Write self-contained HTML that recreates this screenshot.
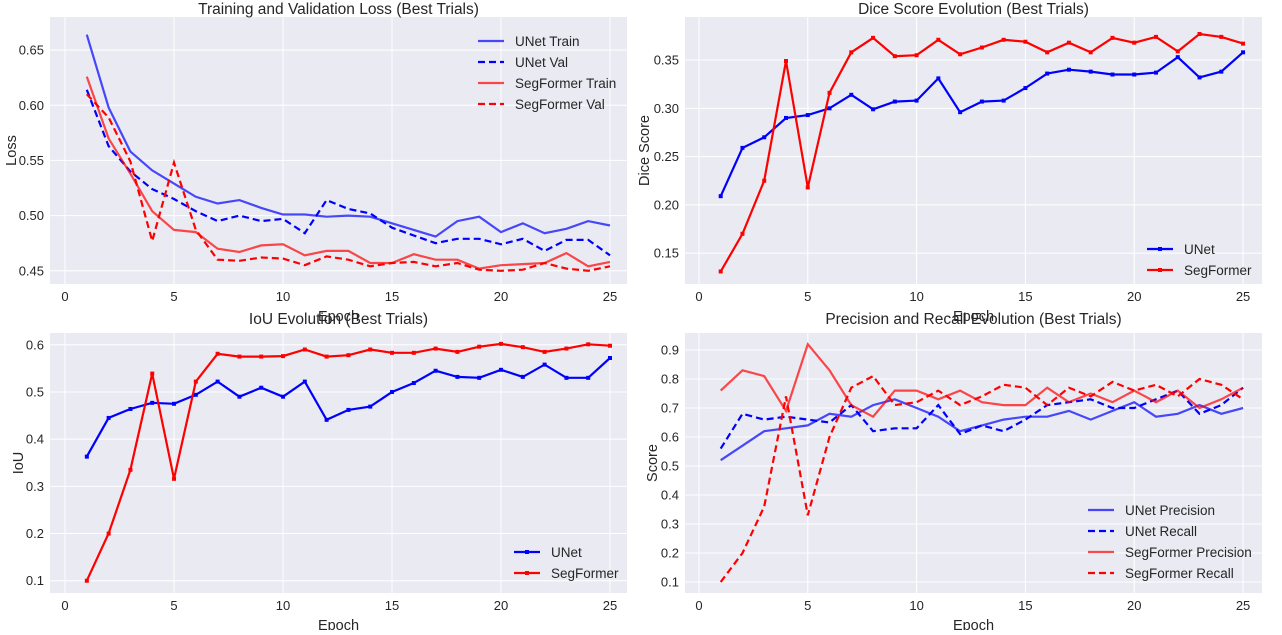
<!DOCTYPE html>
<html><head><meta charset="utf-8"><style>
body{margin:0;background:#fff;width:1282px;height:630px;overflow:hidden}
svg{font-family:"Liberation Sans",sans-serif}
</style></head><body>
<svg id="c" width="1282" height="630"></svg>
<script>
const epochs=[1,2,3,4,5,6,7,8,9,10,11,12,13,14,15,16,17,18,19,20,21,22,23,24,25];
const unetTrain=[0.664,0.598,0.558,0.541,0.529,0.517,0.511,0.514,0.507,0.501,0.501,0.499,0.500,0.499,0.493,0.487,0.481,0.495,0.499,0.485,0.493,0.484,0.488,0.495,0.491];
const unetVal=[0.614,0.563,0.540,0.524,0.515,0.504,0.495,0.500,0.495,0.497,0.484,0.514,0.506,0.502,0.489,0.482,0.475,0.479,0.479,0.474,0.479,0.468,0.478,0.478,0.464];
const segTrain=[0.626,0.570,0.538,0.504,0.487,0.485,0.470,0.467,0.473,0.474,0.464,0.468,0.468,0.457,0.457,0.465,0.460,0.460,0.452,0.455,0.456,0.457,0.466,0.454,0.458];
const segVal=[0.610,0.589,0.549,0.477,0.548,0.487,0.460,0.459,0.462,0.461,0.455,0.463,0.460,0.454,0.457,0.458,0.454,0.457,0.451,0.450,0.451,0.457,0.452,0.450,0.454];
const unetDice=[0.209,0.259,0.270,0.290,0.293,0.300,0.314,0.299,0.307,0.308,0.331,0.296,0.307,0.308,0.321,0.336,0.340,0.338,0.335,0.335,0.337,0.353,0.332,0.338,0.358];
const segDice=[0.131,0.170,0.225,0.349,0.218,0.316,0.358,0.373,0.354,0.355,0.371,0.356,0.363,0.371,0.369,0.358,0.368,0.358,0.373,0.368,0.374,0.359,0.377,0.374,0.367];
const unetIoU=[0.363,0.445,0.464,0.477,0.475,0.494,0.522,0.490,0.509,0.490,0.522,0.441,0.462,0.469,0.500,0.519,0.545,0.532,0.530,0.547,0.532,0.558,0.530,0.530,0.572];
const segIoU=[0.10,0.20,0.335,0.539,0.316,0.522,0.581,0.575,0.575,0.576,0.590,0.575,0.578,0.590,0.583,0.583,0.592,0.585,0.596,0.602,0.595,0.585,0.592,0.601,0.598];
const unetPrec=[0.52,0.57,0.62,0.63,0.64,0.68,0.67,0.71,0.73,0.70,0.67,0.62,0.64,0.66,0.67,0.67,0.69,0.66,0.69,0.72,0.67,0.68,0.71,0.68,0.70];
const unetRec=[0.56,0.68,0.66,0.67,0.66,0.65,0.71,0.62,0.63,0.63,0.71,0.61,0.64,0.62,0.66,0.71,0.72,0.73,0.70,0.70,0.73,0.76,0.68,0.71,0.77];
const segPrec=[0.76,0.83,0.81,0.69,0.92,0.83,0.71,0.67,0.76,0.76,0.73,0.76,0.72,0.71,0.71,0.77,0.72,0.75,0.72,0.76,0.72,0.76,0.70,0.73,0.77];
const segRec=[0.10,0.20,0.36,0.74,0.33,0.60,0.77,0.81,0.71,0.72,0.76,0.71,0.74,0.78,0.77,0.71,0.77,0.74,0.79,0.76,0.78,0.74,0.80,0.78,0.73];
const xTicks=[0,5,10,15,20,25];
const lossTicks=[0.45,0.50,0.55,0.60,0.65];
const diceTicks=[0.15,0.20,0.25,0.30,0.35];
const iouTicks=[0.1,0.2,0.3,0.4,0.5,0.6];
const scoreTicks=[0.1,0.2,0.3,0.4,0.5,0.6,0.7,0.8,0.9];

const NS="http://www.w3.org/2000/svg",svg=document.getElementById('c');
function mk(tag,attrs,parent,name){const e=document.createElementNS(NS,tag);for(const k in attrs)e.setAttribute(k,attrs[k]);


(parent||svg).appendChild(e);return e;}
function panel(p){
  const g=mk('g',{},svg,p.name);
  const sx=v=>p.l+(v-p.x0)/(p.x1-p.x0)*(p.r-p.l), sy=v=>p.b-(v-p.y0)/(p.y1-p.y0)*(p.b-p.t);
  mk('rect',{x:p.l,y:p.t,width:p.r-p.l,height:p.b-p.t,fill:'#eaeaf2'},g,'plot-area');
  xTicks.forEach(t=>{mk('line',{x1:sx(t),x2:sx(t),y1:p.t,y2:p.b,stroke:'#fff','stroke-width':1},g,'x-gridline');
    const tx=mk('text',{x:sx(t),y:p.b+17,'text-anchor':'middle','font-size':13,fill:'#262626'},g,'x-tick-label');tx.textContent=t;});
  p.ticks.forEach(t=>{mk('line',{x1:p.l,x2:p.r,y1:sy(t),y2:sy(t),stroke:'#fff','stroke-width':1},g,'y-gridline');
    const tx=mk('text',{x:p.l-6,y:sy(t)+4.5,'text-anchor':'end','font-size':13,fill:'#262626'},g,'y-tick-label');tx.textContent=t.toFixed(p.dec);});
  const ti=mk('text',{x:(p.l+p.r)/2,y:p.t-p.tdy,'text-anchor':'middle','font-size':15.5,fill:'#262626'},g,'chart-title');ti.textContent=p.title;
  const xl=mk('text',{x:(p.l+p.r)/2,y:p.b+37,'text-anchor':'middle','font-size':14.5,fill:'#262626'},g,'x-axis-title');xl.textContent='Epoch';
  const yl=mk('text',{x:0,y:0,'text-anchor':'middle','font-size':14.5,fill:'#262626',transform:`translate(${p.yl},${(p.t+p.b)/2}) rotate(-90)`},g,'y-axis-title');yl.textContent=p.ylabel;
  p.series.forEach(s=>{
    const pts=epochs.map((e,i)=>sx(e).toFixed(1)+','+sy(s.d[i]).toFixed(1)).join(' ');
    mk('polyline',{points:pts,fill:'none',stroke:s.c,'stroke-width':2.2,'stroke-opacity':s.o||1,'stroke-dasharray':s.dash?'7,4':'none'},g,s.n+'-line');
    if(s.m)epochs.forEach((e,i)=>mk('rect',{x:sx(e)-2,y:sy(s.d[i])-2,width:4,height:4,fill:s.c},g,s.n+'-marker'));
  });
  const L=p.leg;
  p.series.forEach((s,i)=>{const y=L.y+i*21;
    mk('line',{x1:L.x,x2:L.x+26,y1:y,y2:y,stroke:s.c,'stroke-width':2.2,'stroke-opacity':s.o||1,'stroke-dasharray':s.dash?'7,4':'none'},g,'legend-swatch');
    if(s.m)mk('rect',{x:L.x+11,y:y-2,width:4,height:4,fill:s.c},g,'legend-marker');
    const t=mk('text',{x:L.x+37,y:y+5,'font-size':13.5,fill:'#262626'},g,'legend-entry');t.textContent=s.label;});
}
panel({name:'loss-chart',l:50,r:627,t:17,b:284,tdy:3,x0:-0.69,x1:25.78,y0:0.438,y1:0.680,ticks:lossTicks,dec:2,title:'Training and Validation Loss (Best Trials)',ylabel:'Loss',yl:16,
 leg:{x:478,y:41},series:[{n:'unet-train',label:'UNet Train',d:unetTrain,c:'#0000ff',o:0.7},{n:'unet-val',label:'UNet Val',d:unetVal,c:'#0000ff',dash:1},
 {n:'segformer-train',label:'SegFormer Train',d:segTrain,c:'#ff0000',o:0.7},{n:'segformer-val',label:'SegFormer Val',d:segVal,c:'#ff0000',dash:1}]});
panel({name:'dice-chart',l:685,r:1262,t:17,b:284,tdy:3,x0:-0.64,x1:25.87,y0:0.118,y1:0.3946,ticks:diceTicks,dec:2,title:'Dice Score Evolution (Best Trials)',ylabel:'Dice Score',yl:649,
 leg:{x:1147,y:249},series:[{n:'unet-dice',label:'UNet',d:unetDice,c:'#0000ff',m:1},{n:'segformer-dice',label:'SegFormer',d:segDice,c:'#ff0000',m:1}]});
panel({name:'iou-chart',l:50,r:627,t:333,b:593,tdy:9,x0:-0.69,x1:25.78,y0:0.074,y1:0.625,ticks:iouTicks,dec:1,title:'IoU Evolution (Best Trials)',ylabel:'IoU',yl:23,
 leg:{x:514,y:552},series:[{n:'unet-iou',label:'UNet',d:unetIoU,c:'#0000ff',m:1},{n:'segformer-iou',label:'SegFormer',d:segIoU,c:'#ff0000',m:1}]});
panel({name:'precision-recall-chart',l:685,r:1262,t:333,b:593,tdy:9,x0:-0.64,x1:25.87,y0:0.062,y1:0.9586,ticks:scoreTicks,dec:1,title:'Precision and Recall Evolution (Best Trials)',ylabel:'Score',yl:657,
 leg:{x:1088,y:510},series:[{n:'unet-precision',label:'UNet Precision',d:unetPrec,c:'#0000ff',o:0.7},{n:'unet-recall',label:'UNet Recall',d:unetRec,c:'#0000ff',dash:1},
 {n:'segformer-precision',label:'SegFormer Precision',d:segPrec,c:'#ff0000',o:0.7},{n:'segformer-recall',label:'SegFormer Recall',d:segRec,c:'#ff0000',dash:1}]});
</script>
</body></html>
